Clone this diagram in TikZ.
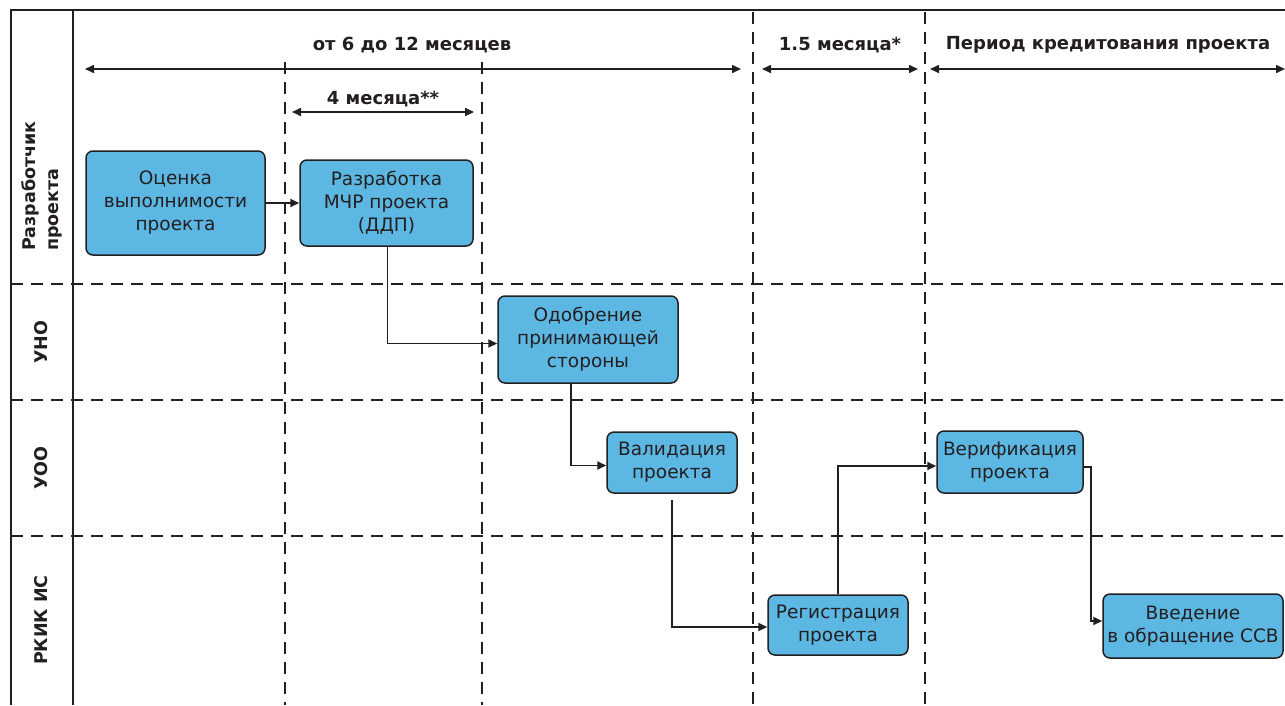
\documentclass[tikz,border=0pt]{standalone}
\usepackage{fontspec}
\setmainfont{DejaVu Sans}
\usetikzlibrary{arrows.meta}
\definecolor{ink}{HTML}{231F20}
\definecolor{boxblue}{HTML}{5DB7E3}
\begin{document}
\begin{tikzpicture}[x=1pt,y=-1pt,
  frame/.style={draw=ink,line width=2pt},
  grid/.style={draw=ink,line width=1.2pt,dash pattern=on 12pt off 8pt},
  stage/.style={draw=ink,line width=1.5pt,fill=boxblue,rounded corners=7pt,
    align=center,font=\fontsize{18.5}{23}\selectfont,text=ink,inner sep=0pt},
  flow/.style={draw=ink,line width=1.8pt,-{Triangle[length=9pt,width=8pt]}},
  span/.style={draw=ink,line width=1.6pt,{Triangle[length=9pt,width=8pt]}-{Triangle[length=9pt,width=8pt]}},
  head/.style={font=\bfseries\fontsize{18}{20}\selectfont,text=ink},
  lane/.style={font=\bfseries\fontsize{17.5}{23}\selectfont,text=ink,rotate=90,align=left}]
\useasboundingbox (0,0) rectangle (1285,705);
\fill[white] (0,0) rectangle (1285,705);

% swimlane separators
\draw[grid] (11,284) -- (1285,284);
\draw[grid] (11,400) -- (1285,400);
\draw[grid] (11,536) -- (1285,536);
% time period boundaries
\draw[grid] (285,62) -- (285,705);
\draw[grid] (482,62) -- (482,705);
\draw[grid] (753,12) -- (753,705);
\draw[grid] (925,12) -- (925,705);
% outer frame
\draw[frame] (11,705) -- (11,10) -- (1285,10);
\draw[frame] (73,10) -- (73,705);

% lane titles
\node[lane] (l1) at (42,186) {Разработчик\\проекта};
\node[lane] (l2) at (41,342) {УНО};
\node[lane] (l3) at (41,468) {УОО};
\node[lane] (l4) at (41,620) {РКИК ИС};

% durations
\node[head] (h1) at (412,45) {от 6 до 12 месяцев};
\node[head] (h2) at (383,99) {4 месяца**};
\node[head] (h3) at (840,45) {1.5 месяца*};
\node[head] (h4) at (1108,45) {Период кредитования проекта};
\coordinate (a1) at (85,69);  \coordinate (b1) at (741,69);
\coordinate (a2) at (292,112); \coordinate (b2) at (474,112);
\coordinate (a3) at (762,69); \coordinate (b3) at (918,69);
\coordinate (a4) at (930,69); \coordinate (b4) at (1285,69);
\draw[span] (a1) -- (b1);
\draw[span] (a2) -- (b2);
\draw[span] (a3) -- (b3);
\draw[span] (a4) -- (b4);

% stages
\node[stage,minimum width=179pt,minimum height=104pt] (ocn) at (175.5,203) {Оценка\\выполнимости\\проекта};
\node[stage,minimum width=173pt,minimum height=86pt] (mcr) at (386.5,203) {Разработка\\МЧР проекта\\(ДДП)};
\node[stage,minimum width=180pt,minimum height=87pt] (odo) at (588,339.5) {Одобрение\\принимающей\\стороны};
\node[stage,minimum width=130pt,minimum height=61pt] (val) at (672,462.5) {Валидация\\проекта};
\node[stage,minimum width=140pt,minimum height=60pt] (reg) at (838,625) {Регистрация\\проекта};
\node[stage,minimum width=146pt,minimum height=62pt] (ver) at (1010,462) {Верификация\\проекта};
\node[stage,minimum width=180pt,minimum height=64pt] (vvd) at (1193,626) {Введение\\в обращение ССВ};

% flow
\draw[flow] (ocn.east) -- (mcr.west);
\draw[flow] (mcr.south) ++(1,0) |- ([yshift=-4pt]odo.west);
\draw[flow] (odo.south) ++(-17,0) |- ([yshift=-3pt]val.west);
\draw[flow] ([yshift=-6pt]val.south) |- ([yshift=-2pt]reg.west);
\draw[flow] (reg.north) |- ([yshift=-4pt]ver.west);
\draw[flow] ([yshift=-5pt]ver.east) -- ++(7,0) |- ([yshift=5pt]vvd.west);
\end{tikzpicture}
\end{document}
